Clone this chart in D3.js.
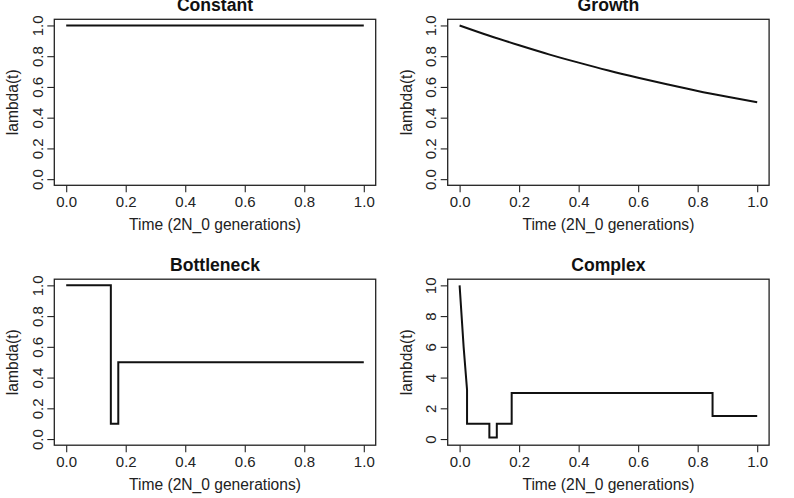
<!DOCTYPE html>
<html>
<head>
<meta charset="utf-8">
<script src="https://cdn.jsdelivr.net/npm/d3@7"></script>
<style>
  body { margin: 0; background: #fff; }
  svg { display: block; font-family: "Liberation Sans", Arial, Helvetica, sans-serif; }
</style>
</head>
<body>
<svg width="794" height="498"></svg>
<script>
// values
const titles = ["Constant", "Growth", "Bottleneck", "Complex"];
const xTicks = [0, 0.2, 0.4, 0.6, 0.8, 1.0];
const unitTicks = [0, 0.2, 0.4, 0.6, 0.8, 1.0];
const complexTicks = [0, 2, 4, 6, 8, 10];

const constantT = [0, 1];
const constantL = [1, 1];

const growthT = [0, 0.1, 0.2, 0.3, 0.4, 0.5, 0.6, 0.7, 0.8, 0.9, 1.0];
const growthL = [1.0, 0.933, 0.871, 0.812, 0.758, 0.707, 0.66, 0.616, 0.574, 0.536, 0.5];

const bottleneckT = [0, 0.15, 0.15, 0.175, 0.175, 1.0];
const bottleneckL = [1.0, 1.0, 0.1, 0.1, 0.5, 0.5];

const complexT = [0, 0.0135, 0.025, 0.025, 0.1, 0.1, 0.125, 0.125, 0.175, 0.175, 0.85, 0.85, 1.0];
const complexL = [10, 6.0, 3.2, 1.0, 1.0, 0.1, 0.1, 1.0, 1.0, 3.0, 3.0, 1.5, 1.5];

const svg = d3.select("svg");

// plot boxes (left, top) for each panel, R-ish layout
const boxW = 321.4, boxH = 166;
const lefts = [54.3, 447.7];
const tops = [19.3, 279.2];

const panels = [
  {title: titles[0], t: constantT, l: constantL, yMax: 1, yTicks: unitTicks, fmt: d3.format(".1f")},
  {title: titles[1], t: growthT, l: growthL, yMax: 1, yTicks: unitTicks, fmt: d3.format(".1f")},
  {title: titles[2], t: bottleneckT, l: bottleneckL, yMax: 1, yTicks: unitTicks, fmt: d3.format(".1f")},
  {title: titles[3], t: complexT, l: complexL, yMax: 10, yTicks: complexTicks, fmt: d3.format("d")}
];

panels.forEach((p, i) => {
  const x0 = lefts[i % 2], y0 = tops[Math.floor(i / 2)];
  const g = svg.append("g").attr("transform", `translate(${x0},${y0})`);

  // R pads the range by 4% on each side
  const x = d3.scaleLinear().domain([-0.04, 1.04]).range([0, boxW]);
  const y = d3.scaleLinear().domain([-0.04 * p.yMax, 1.04 * p.yMax]).range([boxH, 0]);

  // x axis
  const xa = g.append("g").attr("transform", `translate(0,${boxH})`)
    .call(d3.axisBottom(x).tickValues(xTicks).tickSize(7).tickFormat(d3.format(".1f")));
  xa.select(".domain").remove();
  xa.selectAll("line").attr("stroke", "#222").attr("stroke-width", 1.1);
  xa.selectAll("text").attr("y", 22).attr("dy", 0)
    .attr("font-size", 15).attr("fill", "#222").attr("font-family", null);

  // y axis, labels turned like R does
  const ya = g.append("g")
    .call(d3.axisLeft(y).tickValues(p.yTicks).tickSize(7).tickFormat(p.fmt));
  ya.select(".domain").remove();
  ya.selectAll("line").attr("stroke", "#222").attr("stroke-width", 1.1);
  ya.selectAll("text")
    .attr("x", 0).attr("y", 0).attr("dy", 0)
    .attr("transform", "translate(-11.6,0) rotate(-90)")
    .attr("text-anchor", "middle")
    .attr("font-size", 15).attr("fill", "#222").attr("font-family", null);

  // box
  g.append("rect")
    .attr("width", boxW).attr("height", boxH)
    .attr("fill", "none").attr("stroke", "#222").attr("stroke-width", 1.3);

  // the curve
  const pts = p.t.map((v, k) => [v, p.l[k]]);
  const line = d3.line()
    .x(d => x(d[0])).y(d => y(d[1]))
    .curve(i === 1 ? d3.curveMonotoneX : d3.curveLinear);
  g.append("path")
    .attr("d", line(pts))
    .attr("fill", "none").attr("stroke", "#111").attr("stroke-width", 2)
    .attr("stroke-linejoin", "miter");

  // title and axis titles
  g.append("text")
    .attr("x", boxW / 2).attr("y", -8)
    .attr("text-anchor", "middle")
    .attr("font-size", 17.6).attr("font-weight", "bold").attr("fill", "#111")
    .text(p.title);

  g.append("text")
    .attr("x", boxW / 2).attr("y", boxH + 45)
    .attr("text-anchor", "middle")
    .attr("font-size", 15.6).attr("fill", "#222")
    .text("Time (2N_0 generations)");

  g.append("text")
    .attr("transform", `translate(-36,${boxH / 2}) rotate(-90)`)
    .attr("text-anchor", "middle")
    .attr("font-size", 15.6).attr("fill", "#222")
    .text("lambda(t)");
});
</script>
</body>
</html>
